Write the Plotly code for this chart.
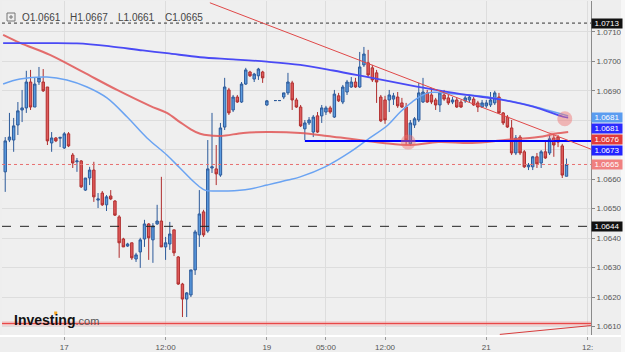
import plotly.graph_objects as go

# ---------------- data (30-minute EUR/USD bars, index 0 = the "17" session start) ----------------
bar_index = list(range(-14, 49)) + list(range(50, 120))

opens = [
    1.06625, 1.06733, 1.06733, 1.06784, 1.06835, 1.06842, 1.06930, 1.06845, 1.06930, 1.06930,
    1.06913, 1.06723, 1.06740, 1.06739,
    1.06706, 1.06754, 1.06682, 1.06659, 1.06662, 1.06563, 1.06604, 1.06631, 1.06529, 1.06553,
    1.06513, 1.06543, 1.06526, 1.06472, 1.06397, 1.06373, 1.06384, 1.06329, 1.06353, 1.06397,
    1.06448, 1.06394, 1.06448, 1.06458, 1.06370, 1.06380, 1.06428, 1.06336, 1.06244, 1.06193,
    1.06207, 1.06292, 1.06411, 1.06489, 1.06424, 1.06638, 1.06635, 1.06614, 1.06777, 1.06903,
    1.06835, 1.06879, 1.06862, 1.06923, 1.06964, 1.06940, 1.06951, 1.06964, 1.06852,
    1.06867, 1.06867, 1.06879, 1.06893, 1.06927, 1.06869, 1.06845, 1.06771, 1.06791, 1.06760,
    1.06815, 1.06815, 1.06828, 1.06842, 1.06811, 1.06883, 1.06862, 1.06896, 1.06913, 1.06930,
    1.06913, 1.06988, 1.06995, 1.06978, 1.06961, 1.06879, 1.06869, 1.06869, 1.06872, 1.06879,
    1.06859, 1.06845, 1.06720, 1.06784, 1.06801, 1.06862, 1.06893, 1.06886, 1.06869, 1.06852,
    1.06886, 1.06876, 1.06862, 1.06869, 1.06862, 1.06866, 1.06869, 1.06872, 1.06859, 1.06845,
    1.06849, 1.06852, 1.06859, 1.06879, 1.06825, 1.06811, 1.06774, 1.06689, 1.06743, 1.06693,
    1.06642, 1.06642, 1.06676, 1.06655, 1.06693, 1.06689, 1.06740, 1.06743, 1.06713, 1.06610,
]
highs = [
    1.06743, 1.06825, 1.06808, 1.06862, 1.06903, 1.06968, 1.06971, 1.06944, 1.06981, 1.06974,
    1.06913, 1.06760, 1.06743, 1.06743,
    1.06760, 1.06760, 1.06689, 1.06672, 1.06665, 1.06604, 1.06642, 1.06659, 1.06553, 1.06560,
    1.06546, 1.06563, 1.06529, 1.06478, 1.06401, 1.06384, 1.06384, 1.06350, 1.06401, 1.06462,
    1.06451, 1.06451, 1.06513, 1.06608, 1.06404, 1.06455, 1.06428, 1.06339, 1.06248, 1.06217,
    1.06292, 1.06428, 1.06563, 1.06496, 1.06733, 1.06825, 1.06716, 1.06791, 1.06944, 1.06910,
    1.06886, 1.06886, 1.06930, 1.06978, 1.06968, 1.06961, 1.06978, 1.06968, 1.06869,
    1.06867, 1.06867, 1.06893, 1.06961, 1.06934, 1.06876, 1.06852, 1.06801, 1.06811, 1.06818,
    1.06828, 1.06852, 1.06849, 1.06849, 1.06903, 1.06893, 1.06920, 1.06937, 1.06947, 1.06944,
    1.07032, 1.07049, 1.07039, 1.06988, 1.06971, 1.06886, 1.06883, 1.06903, 1.06893, 1.06896,
    1.06876, 1.06859, 1.06801, 1.06811, 1.06927, 1.06944, 1.06903, 1.06910, 1.06876, 1.06896,
    1.06903, 1.06886, 1.06879, 1.06876, 1.06869, 1.06883, 1.06886, 1.06879, 1.06866, 1.06869,
    1.06869, 1.06896, 1.06900, 1.06893, 1.06828, 1.06818, 1.06801, 1.06750, 1.06750, 1.06699,
    1.06655, 1.06679, 1.06689, 1.06699, 1.06733, 1.06750, 1.06750, 1.06750, 1.06720, 1.06670,
]
lows = [
    1.06557, 1.06726, 1.06693, 1.06750, 1.06794, 1.06825, 1.06835, 1.06845, 1.06920, 1.06896,
    1.06716, 1.06693, 1.06726, 1.06709,
    1.06703, 1.06709, 1.06638, 1.06625, 1.06570, 1.06560, 1.06580, 1.06523, 1.06502, 1.06509,
    1.06492, 1.06529, 1.06475, 1.06333, 1.06370, 1.06370, 1.06326, 1.06319, 1.06299, 1.06370,
    1.06326, 1.06316, 1.06445, 1.06370, 1.06326, 1.06360, 1.06339, 1.06241, 1.06132, 1.06132,
    1.06200, 1.06275, 1.06370, 1.06404, 1.06418, 1.06621, 1.06580, 1.06608, 1.06767, 1.06818,
    1.06828, 1.06859, 1.06859, 1.06920, 1.06947, 1.06930, 1.06937, 1.06927, 1.06849,
    1.06867, 1.06867, 1.06872, 1.06886, 1.06835, 1.06842, 1.06777, 1.06733, 1.06784, 1.06743,
    1.06757, 1.06791, 1.06818, 1.06822, 1.06808, 1.06862, 1.06855, 1.06886, 1.06910, 1.06910,
    1.06910, 1.06981, 1.06947, 1.06930, 1.06859, 1.06794, 1.06788, 1.06828, 1.06852, 1.06842,
    1.06842, 1.06716, 1.06713, 1.06774, 1.06794, 1.06859, 1.06859, 1.06855, 1.06835, 1.06828,
    1.06866, 1.06852, 1.06855, 1.06842, 1.06842, 1.06859, 1.06862, 1.06849, 1.06828, 1.06842,
    1.06842, 1.06845, 1.06852, 1.06822, 1.06784, 1.06774, 1.06682, 1.06682, 1.06682, 1.06638,
    1.06631, 1.06631, 1.06638, 1.06638, 1.06669, 1.06682, 1.06676, 1.06709, 1.06604, 1.06610,
]
closes = [
    1.06730, 1.06743, 1.06781, 1.06832, 1.06842, 1.06930, 1.06845, 1.06923, 1.06944, 1.06900,
    1.06730, 1.06740, 1.06730, 1.06742,
    1.06754, 1.06713, 1.06655, 1.06662, 1.06574, 1.06604, 1.06631, 1.06540, 1.06533, 1.06513,
    1.06540, 1.06533, 1.06478, 1.06384, 1.06370, 1.06380, 1.06333, 1.06343, 1.06394, 1.06448,
    1.06401, 1.06441, 1.06458, 1.06370, 1.06384, 1.06414, 1.06350, 1.06244, 1.06193, 1.06214,
    1.06292, 1.06421, 1.06482, 1.06411, 1.06635, 1.06642, 1.06618, 1.06774, 1.06913, 1.06825,
    1.06879, 1.06862, 1.06923, 1.06971, 1.06951, 1.06957, 1.06974, 1.06944, 1.06866,
    1.06867, 1.06867, 1.06893, 1.06930, 1.06869, 1.06845, 1.06781, 1.06791, 1.06801, 1.06811,
    1.06760, 1.06842, 1.06842, 1.06828, 1.06889, 1.06866, 1.06913, 1.06930, 1.06930, 1.06913,
    1.06981, 1.07025, 1.06954, 1.06937, 1.06930, 1.06798, 1.06801, 1.06886, 1.06883, 1.06849,
    1.06845, 1.06733, 1.06791, 1.06805, 1.06893, 1.06896, 1.06862, 1.06862, 1.06852, 1.06893,
    1.06872, 1.06859, 1.06869, 1.06845, 1.06845, 1.06876, 1.06879, 1.06852, 1.06845, 1.06859,
    1.06859, 1.06869, 1.06893, 1.06825, 1.06791, 1.06777, 1.06689, 1.06740, 1.06689, 1.06642,
    1.06648, 1.06676, 1.06652, 1.06693, 1.06672, 1.06737, 1.06716, 1.06726, 1.06614, 1.06650,
]

tick_index = [0, 24, 48, 62, 76, 100, 124]
tick_text = ["17", "12:00", "19", "05:00", "12:00", "21", "12:"]
price_ticks = [1.0610, 1.0620, 1.0630, 1.0640, 1.0650, 1.0660, 1.0670, 1.0680, 1.0690, 1.0700, 1.0710]

# moving averages
ma_dark_x = [-14.5, -5.7, 3.0, 10.9, 18.6, 24.3, 32.2, 40.0, 48.0, 55.9, 63.7, 71.7, 79.6, 87.4, 95.4, 103.2, 111.1, 118.2, 119.4]
ma_dark_y = [1.07062, 1.07062, 1.07061, 1.07051, 1.07037, 1.07028, 1.07014, 1.07007, 1.06999, 1.06988, 1.06969,
             1.06947, 1.06925, 1.06905, 1.06886, 1.06871, 1.06846, 1.06812, 1.06809]
ma_light_x = [-14.5, -10.5, -4.1, 0.6, 5.4, 10.1, 14.9, 19.6, 24.3, 27.4, 31.0, 33.3, 36.2, 38.8, 44.0, 48.0,
              53.0, 55.9, 61.8, 67.7, 71.7, 76.7, 79.6, 82.4, 86.2, 92.6, 100.4, 106.8, 112.7, 119.4]
ma_light_y = [1.06923, 1.06940, 1.06947, 1.06937, 1.06913, 1.06876, 1.06811, 1.06740, 1.06682, 1.06638, 1.06587,
              1.06563, 1.06560, 1.06560, 1.06567, 1.06580, 1.06597, 1.06608, 1.06642, 1.06692, 1.06733, 1.06784,
              1.06828, 1.06862, 1.06893, 1.06889, 1.06879, 1.06862, 1.06842, 1.06815]
ma_red_x = [-14.5, -10.5, -3.4, 4.4, 12.5, 20.3, 24.3, 27.4, 29.8, 32.2, 36.9, 42.4, 48.0, 55.9, 62.3, 67.7,
            75.5, 82.4, 88.6, 96.6, 104.4, 112.3, 116.3, 119.4]
ma_red_y = [1.07090, 1.07063, 1.07022, 1.06964, 1.06903, 1.06849, 1.06825, 1.06794, 1.06771, 1.06754, 1.06747,
            1.06757, 1.06760, 1.06757, 1.06747, 1.06737, 1.06723, 1.06716, 1.06726, 1.06723, 1.06733, 1.06743,
            1.06754, 1.06760]

# drawn levels and trend lines
level_top = 1.0713
level_dash = 1.0644
level_support = 1.0611
level_blue = 1.0673
level_blue_start = 57
trend1_x = [34.5, 124.8]
trend1_y = [1.07199, 1.06702]
trend2_x = [103.2, 124.8]
trend2_y = [1.06073, 1.06103]
highlight_x = [81.5, 118.6, 115.6]
highlight_y = [1.06726, 1.06805, 1.06747]

# right-axis price tags: text, value
tag_text = ["1.0713", "1.0681", "1.0681", "1.0676", "1.0673", "1.0665", "1.0644"]
tag_value = [1.0713, 1.0681, 1.0681, 1.0676, 1.0673, 1.0665, 1.0644]

# ---------------- layout geometry ----------------
W, H = 625, 352
PL, PR, PT, PB = 2, 591, 1, 335
BAR_PX = 4.22
X0_PX = 64.3
x_range = [(PL - X0_PX) / BAR_PX, (PR - X0_PX) / BAR_PX]
y_range = [1.06071, 1.07205]
ppu = (PB - PT) / (y_range[1] - y_range[0])


def pxx(px):
    return (px - PL) / (PR - PL)


def pxy(py):
    return (PB - py) / (PB - PT)


def val_to_px(v):
    return (y_range[1] - v) * ppu + PT


FONT = "Liberation Sans, Arial, sans-serif"

fig = go.Figure()

# support line (with soft halo)
fig.add_trace(go.Scatter(x=x_range, y=[level_support] * 2, mode="lines",
                         line=dict(color="rgba(240,120,120,0.45)", width=4), hoverinfo="skip"))
fig.add_trace(go.Scatter(x=x_range, y=[level_support] * 2, mode="lines",
                         line=dict(color="#e84848", width=1.2), hoverinfo="skip"))

# candles
fig.add_trace(go.Candlestick(
    x=bar_index, open=opens, high=highs, low=lows, close=closes,
    increasing=dict(fillcolor="#5b9be0", line=dict(color="#2c5a9a", width=1)),
    decreasing=dict(fillcolor="#e05c5c", line=dict(color="#b02e2e", width=1)),
    whiskerwidth=0, hoverinfo="skip"))

# moving averages
fig.add_trace(go.Scatter(x=ma_red_x, y=ma_red_y, mode="lines", line_shape="spline",
                         line=dict(color="rgba(225,85,85,0.85)", width=2), hoverinfo="skip"))
fig.add_trace(go.Scatter(x=ma_light_x, y=ma_light_y, mode="lines", line_shape="spline",
                         line=dict(color="#6aa3f2", width=1.5), hoverinfo="skip"))
fig.add_trace(go.Scatter(x=ma_dark_x, y=ma_dark_y, mode="lines", line_shape="spline",
                         line=dict(color="#4a4af5", width=1.8), hoverinfo="skip"))

# levels
fig.add_trace(go.Scatter(x=x_range, y=[level_top] * 2, mode="lines",
                         line=dict(color="#333333", width=1, dash="dot"), hoverinfo="skip"))
fig.add_trace(go.Scatter(x=x_range, y=[level_dash] * 2, mode="lines",
                         line=dict(color="#222222", width=1, dash="dash"), hoverinfo="skip"))
fig.add_trace(go.Scatter(x=x_range, y=[closes[-1]] * 2, mode="lines",
                         line=dict(color="#e87070", width=1, dash="dot"), hoverinfo="skip"))
fig.add_trace(go.Scatter(x=[level_blue_start, x_range[1]], y=[level_blue] * 2, mode="lines",
                         line=dict(color="#0000ff", width=2), hoverinfo="skip"))

# trend lines
fig.add_trace(go.Scatter(x=trend1_x, y=trend1_y, mode="lines",
                         line=dict(color="#e04848", width=1), hoverinfo="skip"))
fig.add_trace(go.Scatter(x=trend2_x, y=trend2_y, mode="lines",
                         line=dict(color="#d83c3c", width=1), hoverinfo="skip"))

# highlight circles
fig.add_trace(go.Scatter(x=highlight_x[:2], y=highlight_y[:2], mode="markers",
                         marker=dict(size=15, color="rgba(240,110,110,0.45)", line=dict(width=0)),
                         hoverinfo="skip"))
fig.add_trace(go.Scatter(x=highlight_x[2:], y=highlight_y[2:], mode="markers",
                         marker=dict(size=10, color="rgba(240,110,110,0.25)", line=dict(width=0)),
                         hoverinfo="skip"))

annotations = []
# header with last bar OHLC
header_items = [("O", opens[-1], 20), ("H", highs[-1], 68), ("L", lows[-1], 116), ("C", closes[-1], 163)]
for lab, val, px in header_items:
    annotations.append(dict(xref="paper", yref="paper", x=pxx(px), y=pxy(17), xanchor="left",
                            yanchor="middle", showarrow=False, text=f"{lab}{val:.4f}",
                            font=dict(family=FONT, size=10, color="#444444")))

# price tags on the right axis, stacked to avoid overlap
tag_colors = ["#111111", "#5a9cf0", "#2b2bff", "#e23b3b", "#2323ff", "#f08080", "#111111"]
pos = [val_to_px(v) for v in tag_value]
stacked = []
for i, p in enumerate(pos):
    if i > 0 and p < stacked[-1] + 11:
        p = stacked[-1] + 11
    stacked.append(p)
for t, v, c, p0, p1 in zip(tag_text, tag_value, tag_colors, pos, stacked):
    annotations.append(dict(xref="paper", yref="y", x=pxx(607), y=v, xanchor="center", yanchor="middle",
                            yshift=-(p1 - p0), showarrow=False, text=t, bgcolor=c, width=30, height=9,
                            borderpad=0, font=dict(family=FONT, size=8, color="white")))

# tick labels hidden behind the price tags (as on the original)
price_tick_text = []
for v in price_ticks:
    py = val_to_px(v)
    hidden = any(abs(py - s) < 8 for s in stacked)
    price_tick_text.append("" if hidden else f"{v:.4f}")

# logo
annotations.append(dict(xref="paper", yref="paper", x=pxx(12), y=pxy(319.5), xanchor="left", yanchor="middle",
                        showarrow=False,
                        text="<b>Investing</b><span style='font-size:11px;color:#555555;font-weight:normal'>.com</span>",
                        font=dict(family=FONT, size=14, color="#111111")))

shapes = [
    # icon box
    dict(type="rect", xref="paper", yref="paper", x0=pxx(7), x1=pxx(15), y0=pxy(21), y1=pxy(13),
         line=dict(color="#777777", width=1), fillcolor="rgba(0,0,0,0)"),
    dict(type="line", xref="paper", yref="paper", x0=pxx(9), x1=pxx(13), y0=pxy(17), y1=pxy(17),
         line=dict(color="#777777", width=1)),
    dict(type="line", xref="paper", yref="paper", x0=pxx(11), x1=pxx(11), y0=pxy(15), y1=pxy(19),
         line=dict(color="#777777", width=1)),
    # white separator under plot
    dict(type="line", xref="paper", yref="paper", x0=pxx(0), x1=pxx(621), y0=pxy(336), y1=pxy(336),
         line=dict(color="white", width=2)),
    # right edge strip
    dict(type="rect", xref="paper", yref="paper", x0=pxx(621), x1=pxx(626), y0=pxy(353), y1=pxy(-1),
         line=dict(width=0), fillcolor="#f7f7f7"),
    # orange dot of the logo
    dict(type="rect", xref="paper", yref="paper", x0=pxx(54.2), x1=pxx(57.2), y0=pxy(314.5), y1=pxy(311.5),
         line=dict(width=0), fillcolor="#f5a623"),
]

fig.update_layout(
    width=W, height=H,
    margin=dict(l=PL, r=W - PR, t=PT, b=H - PB),
    paper_bgcolor="#eeeeee", plot_bgcolor="#efefef",
    showlegend=False, hovermode=False, boxgap=0.18,
    annotations=annotations, shapes=shapes,
    xaxis=dict(range=x_range, tickmode="array", tickvals=tick_index, ticktext=tick_text,
               showgrid=True, gridcolor="#dddddd", gridwidth=1, zeroline=False,
               ticks="outside", ticklen=3, tickcolor="#999999",
               showline=True, linecolor="white", linewidth=2,
               tickfont=dict(family=FONT, size=8, color="#555555"),
               rangeslider=dict(visible=False), fixedrange=True),
    yaxis=dict(range=y_range, side="right", tickmode="array", tickvals=price_ticks,
               ticktext=price_tick_text, showgrid=True, gridcolor="#dddddd", gridwidth=1, zeroline=False,
               ticks="outside", ticklen=3, tickcolor="#888888",
               showline=True, linecolor="#8a8a8a", linewidth=1,
               tickfont=dict(family=FONT, size=8, color="#555555"), fixedrange=True),
)

fig.write_html("out.html")
